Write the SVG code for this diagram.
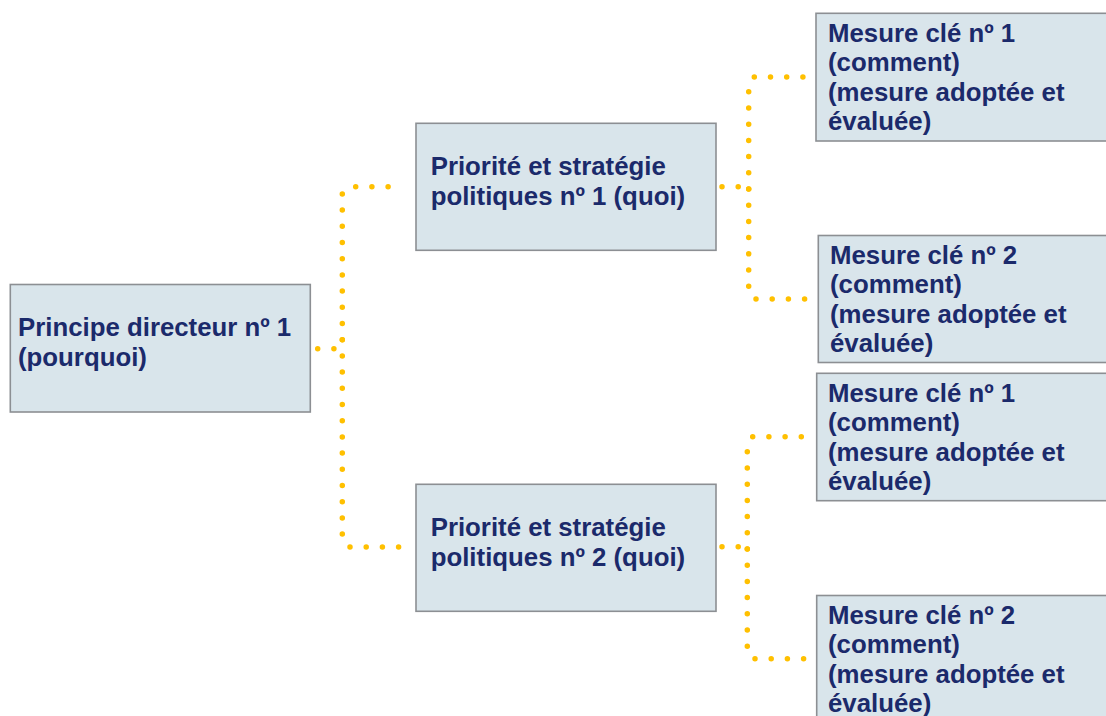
<svg xmlns="http://www.w3.org/2000/svg" width="1106" height="716" viewBox="0 0 1106 716">
<style>
.box{fill:#d9e5eb;stroke:#8c8f93;stroke-width:1.6}
.t{font-family:"Liberation Sans",Arial,sans-serif;font-weight:bold;font-size:25.8px;fill:#1b2a6b}
.dot{fill:none;stroke:#ffc000;stroke-width:5.5;stroke-linecap:round;stroke-dasharray:0 16.2}
</style>
<rect width="1106" height="716" fill="#ffffff"/>
<g id="connectors">
<g id="c-root-p1">
<path class="dot" d="M317.7 348.7 H334.5"/>
<path class="dot" d="M342.3 339.7 V192.9"/>
<path class="dot" d="M355.7 186.7 H389"/>
</g>
<g id="c-root-p2">
<path class="dot" d="M342.3 339.7 V535"/>
<path class="dot" d="M350 547 H399"/>
</g>
<g id="c-p1-m1">
<path class="dot" d="M722 186.7 H739.5"/>
<path class="dot" d="M748.7 189 V90.9"/>
<path class="dot" d="M754.3 77 H804"/>
</g>
<g id="c-p1-m2">
<path class="dot" d="M748.7 189 V287"/>
<path class="dot" d="M756 299 H806"/>
</g>
<g id="c-p2-m1">
<path class="dot" d="M722 546.7 H739"/>
<path class="dot" d="M747.3 549 V450.9"/>
<path class="dot" d="M752.7 436.7 H802.5"/>
</g>
<g id="c-p2-m2">
<path class="dot" d="M747.3 549 V647"/>
<path class="dot" d="M755 658.7 H804.5"/>
</g>
</g>
<g id="root">
<rect class="box" x="10.3" y="284.5" width="300" height="127.5"/>
<text class="t" x="18" y="336">Principe directeur nº 1</text>
<text class="t" x="18" y="365.5">(pourquoi)</text>
</g>
<g id="p1">
<rect class="box" x="416" y="123.3" width="300" height="127"/>
<text class="t" x="430.7" y="175">Priorité et stratégie</text>
<text class="t" x="430.7" y="204.5">politiques nº 1 (quoi)</text>
</g>
<g id="p2">
<rect class="box" x="416" y="484.3" width="300" height="127"/>
<text class="t" x="430.7" y="536">Priorité et stratégie</text>
<text class="t" x="430.7" y="565.5">politiques nº 2 (quoi)</text>
</g>
<g id="m1">
<rect class="box" x="816" y="13.3" width="300" height="127.7"/>
<text class="t" x="828" y="41.5">Mesure clé nº 1</text>
<text class="t" x="828" y="71">(comment)</text>
<text class="t" x="828" y="100.5">(mesure adoptée et</text>
<text class="t" x="828" y="130">évaluée)</text>
</g>
<g id="m2">
<rect class="box" x="818.3" y="235.5" width="300" height="127"/>
<text class="t" x="830" y="263.5">Mesure clé nº 2</text>
<text class="t" x="830" y="293">(comment)</text>
<text class="t" x="830" y="322.5">(mesure adoptée et</text>
<text class="t" x="830" y="352">évaluée)</text>
</g>
<g id="m3">
<rect class="box" x="816.7" y="373.3" width="300" height="127.4"/>
<text class="t" x="828" y="401.5">Mesure clé nº 1</text>
<text class="t" x="828" y="431">(comment)</text>
<text class="t" x="828" y="460.5">(mesure adoptée et</text>
<text class="t" x="828" y="490">évaluée)</text>
</g>
<g id="m4">
<rect class="box" x="816.7" y="595.5" width="300" height="127"/>
<text class="t" x="828" y="623.5">Mesure clé nº 2</text>
<text class="t" x="828" y="653">(comment)</text>
<text class="t" x="828" y="682.5">(mesure adoptée et</text>
<text class="t" x="828" y="712">évaluée)</text>
</g>
</svg>
